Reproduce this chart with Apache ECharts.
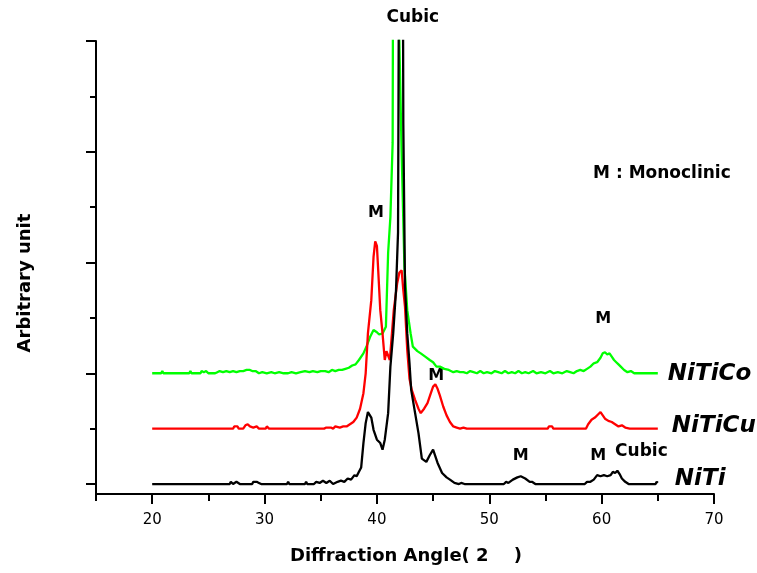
<!DOCTYPE html>
<html>
<head>
<meta charset="utf-8">
<script src="https://cdn.jsdelivr.net/npm/echarts@6/dist/echarts.min.js"></script>
<style>
  html, body { margin: 0; padding: 0; background: #ffffff; }
  #chart { width: 757px; height: 573px; }
</style>
</head>
<body>
<div id="chart"></div>
<script>
// Axis ticks (2θ in degrees, intensity in stacked arbitrary units)
const xMajorTicks = [20, 30, 40, 50, 60, 70];
const xMinorTicks = [15, 25, 35, 45, 55, 65];
const yMajorTicks = [0, 1, 2, 3, 4];
const yMinorTicks = [0.5, 1.5, 2.5, 3.5];

const seriesNames = ['NiTiCo', 'NiTiCu', 'NiTi'];

// NiTiCo pattern, offset by one unit
const nitiCo = [
  [20.0, 1.0], [20.8, 1.0], [20.9, 1.02], [21.0, 1.0], [23.3, 1.0], [23.4, 1.02], [23.5, 1.0],
  [24.3, 1.0], [24.4, 1.02], [24.6, 1.01], [24.8, 1.02], [25.0, 1.0], [25.6, 1.0], [25.8, 1.01],
  [26.0, 1.02], [26.3, 1.01], [26.6, 1.02], [26.9, 1.01], [27.2, 1.02], [27.5, 1.01], [27.8, 1.02],
  [28.1, 1.02], [28.4, 1.03], [28.7, 1.03], [28.9, 1.02], [29.2, 1.02], [29.5, 1.0], [29.8, 1.01],
  [30.2, 1.0], [30.6, 1.01], [30.9, 1.0], [31.3, 1.01], [31.7, 1.0], [32.1, 1.0], [32.4, 1.01],
  [32.8, 1.0], [33.2, 1.01], [33.6, 1.02], [34.0, 1.01], [34.3, 1.02], [34.7, 1.01], [35.0, 1.02],
  [35.4, 1.02], [35.7, 1.01], [36.0, 1.03], [36.3, 1.02], [36.6, 1.03], [36.9, 1.03], [37.2, 1.04],
  [37.5, 1.05], [37.8, 1.07], [38.1, 1.08], [38.4, 1.12], [38.8, 1.18], [39.1, 1.25], [39.4, 1.33],
  [39.7, 1.39], [40.0, 1.37], [40.2, 1.35], [40.5, 1.36], [40.8, 1.42], [41.0, 2.09], [41.2, 2.41],
  [41.4, 3.08], [41.45, 5.2], [41.75, 5.2], [42.2, 3.0], [42.45, 1.96], [42.7, 1.57], [43.0, 1.36],
  [43.2, 1.24], [43.6, 1.2], [43.9, 1.18], [44.3, 1.15], [44.7, 1.12], [45.0, 1.1], [45.3, 1.06],
  [45.6, 1.06], [46.0, 1.04], [46.4, 1.03], [46.8, 1.01], [47.1, 1.02], [47.4, 1.01], [47.7, 1.01],
  [48.0, 1.0], [48.3, 1.02], [48.6, 1.01], [48.9, 1.0], [49.2, 1.02], [49.5, 1.0], [49.8, 1.01],
  [50.2, 1.0], [50.5, 1.02], [50.8, 1.01], [51.1, 1.0], [51.4, 1.02], [51.7, 1.0], [52.0, 1.01],
  [52.3, 1.0], [52.6, 1.02], [52.9, 1.0], [53.2, 1.01], [53.5, 1.0], [53.9, 1.02], [54.2, 1.0],
  [54.6, 1.01], [55.0, 1.0], [55.4, 1.02], [55.7, 1.0], [56.1, 1.01], [56.5, 1.0], [56.9, 1.02],
  [57.2, 1.01], [57.5, 1.0], [57.8, 1.02], [58.1, 1.03], [58.4, 1.02], [58.7, 1.04], [59.0, 1.06],
  [59.3, 1.09], [59.6, 1.1], [59.9, 1.14], [60.1, 1.18], [60.3, 1.19], [60.5, 1.17], [60.7, 1.18],
  [60.9, 1.15], [61.1, 1.12], [61.3, 1.1], [61.5, 1.08], [61.7, 1.06], [62.0, 1.03], [62.3, 1.01],
  [62.6, 1.02], [62.9, 1.0], [65.0, 1.0]
];

// NiTiCu pattern, offset by half a unit
const nitiCu = [
  [20.0, 0.5], [27.2, 0.5], [27.3, 0.52], [27.6, 0.52], [27.7, 0.5], [28.1, 0.5], [28.3, 0.53],
  [28.5, 0.54], [28.7, 0.52], [29.0, 0.51], [29.3, 0.52], [29.5, 0.5], [30.1, 0.5], [30.2, 0.52],
  [30.4, 0.5], [31.2, 0.5], [31.3, 0.51], [31.6, 0.5], [32.4, 0.5], [32.5, 0.51], [32.8, 0.5],
  [33.7, 0.5], [33.8, 0.51], [34.0, 0.5], [35.3, 0.5], [35.5, 0.51], [35.9, 0.51], [36.1, 0.5],
  [36.3, 0.52], [36.7, 0.51], [37.0, 0.52], [37.3, 0.52], [37.6, 0.54], [37.9, 0.56], [38.2, 0.6],
  [38.5, 0.68], [38.8, 0.82], [39.0, 1.0], [39.2, 1.36], [39.5, 1.66], [39.7, 2.05], [39.85, 2.19],
  [40.0, 2.15], [40.1, 1.96], [40.3, 1.57], [40.5, 1.36], [40.7, 1.12], [40.85, 1.2], [41.0, 1.21],
  [41.15, 1.12], [41.3, 1.12], [41.5, 1.57], [41.8, 1.81], [42.0, 1.91], [42.2, 1.93], [42.35, 1.75],
  [42.5, 1.6], [42.7, 1.21], [42.9, 0.95], [43.1, 0.85], [43.4, 0.76], [43.7, 0.68], [43.9, 0.64],
  [44.2, 0.68], [44.5, 0.73], [44.8, 0.82], [45.0, 0.88], [45.2, 0.9], [45.4, 0.86], [45.6, 0.8],
  [45.9, 0.7], [46.2, 0.62], [46.5, 0.56], [46.8, 0.52], [47.1, 0.51], [47.4, 0.5], [47.7, 0.51],
  [48.0, 0.5], [55.2, 0.5], [55.3, 0.52], [55.6, 0.52], [55.7, 0.5], [58.6, 0.5], [58.8, 0.54],
  [59.1, 0.58], [59.4, 0.6], [59.7, 0.63], [59.9, 0.65], [60.1, 0.62], [60.3, 0.59], [60.6, 0.57],
  [60.9, 0.56], [61.2, 0.54], [61.5, 0.52], [61.8, 0.53], [62.1, 0.51], [62.5, 0.5], [65.0, 0.5]
];

// NiTi pattern, no offset
const niti = [
  [20.0, 0], [26.9, 0], [27.0, 0.02], [27.2, 0], [27.5, 0.02], [27.8, 0], [28.9, 0], [29.0, 0.02],
  [29.3, 0.02], [29.5, 0.01], [29.7, 0], [32.0, 0], [32.1, 0.02], [32.2, 0], [33.6, 0], [33.7, 0.02],
  [33.8, 0], [34.4, 0], [34.6, 0.02], [34.9, 0.01], [35.2, 0.03], [35.5, 0.01], [35.8, 0.03],
  [36.1, 0], [36.5, 0.02], [36.8, 0.03], [37.1, 0.02], [37.4, 0.05], [37.7, 0.04], [38.0, 0.08],
  [38.2, 0.07], [38.4, 0.11], [38.6, 0.15], [38.8, 0.37], [39.0, 0.55], [39.2, 0.65], [39.5, 0.6],
  [39.7, 0.49], [40.0, 0.4], [40.3, 0.37], [40.5, 0.31], [40.7, 0.4], [41.0, 0.64], [41.2, 1.06],
  [41.45, 1.36], [41.7, 1.75], [41.88, 2.27], [41.98, 5.2], [42.3, 5.2], [42.35, 3.26], [42.5, 1.78],
  [42.7, 1.36], [42.9, 1.09], [43.05, 0.85], [43.4, 0.64], [43.7, 0.46], [44.0, 0.23], [44.4, 0.2],
  [44.7, 0.26], [45.0, 0.31], [45.1, 0.3], [45.4, 0.19], [45.8, 0.1], [46.2, 0.06], [46.5, 0.04],
  [46.9, 0.01], [47.3, 0], [47.5, 0.01], [47.8, 0], [50.6, 0], [50.7, 0.01], [51.3, 0], [51.5, 0.02],
  [51.7, 0.01], [52.1, 0.04], [52.5, 0.06], [52.8, 0.07], [53.2, 0.05], [53.6, 0.02], [53.8, 0.02],
  [54.1, 0], [54.9, 0], [55.0, 0.01], [55.1, 0], [58.5, 0], [58.7, 0.02], [59.0, 0.02], [59.3, 0.04],
  [59.6, 0.08], [59.9, 0.07], [60.2, 0.08], [60.5, 0.07], [60.8, 0.08], [61.0, 0.11], [61.2, 0.1],
  [61.4, 0.12], [61.6, 0.09], [61.8, 0.05], [62.1, 0.02], [62.4, 0], [64.8, 0], [64.9, 0.02], [65.0, 0.01]
];

// Peak annotations: text, 2θ, height, alignment, font size
const annotations = [
  ['Cubic', 43.2, 4.21, 'center', 17],
  ['M : Monoclinic', 59.24, 2.8, 'left', 17],
  ['M', 39.92, 2.45, 'center', 16],
  ['M', 45.28, 0.98, 'center', 16],
  ['M', 52.8, 0.25, 'center', 16],
  ['M', 59.69, 0.25, 'center', 16],
  ['Cubic', 61.2, 0.29, 'left', 17],
  ['M', 60.13, 1.49, 'center', 16]
];

const FONT = '"DejaVu Sans", "Liberation Sans", sans-serif';
const chart = echarts.init(document.getElementById('chart'), null, { renderer: 'canvas' });

const yRange = { min: -0.09, max: 4 };

function lineSeries(name, data, color, labelDistance, labelDy) {
  return {
    name: name,
    type: 'line',
    data: data,
    xAxisIndex: 0,
    yAxisIndex: 0,
    symbol: 'none',
    showSymbol: false,
    clip: true,
    animation: false,
    lineStyle: { color: color, width: 2.3 },
    endLabel: {
      show: true,
      formatter: '{a}',
      distance: labelDistance,
      offset: [0, labelDy],
      color: '#000',
      fontFamily: FONT,
      fontWeight: 'bold',
      fontStyle: 'italic',
      fontSize: 23
    }
  };
}

const option = {
  backgroundColor: '#ffffff',
  animation: false,
  grid: { left: 96, right: 43, top: 41, bottom: 79, containLabel: false },
  xAxis: [
    {
      type: 'value', min: 15, max: 70, position: 'bottom',
      axisLine: { show: true, onZero: false, lineStyle: { color: '#000', width: 2 } },
      axisTick: { show: true, customValues: xMajorTicks, length: 10, lineStyle: { color: '#000', width: 2 } },
      axisLabel: { show: true, customValues: xMajorTicks, margin: 19, color: '#000', fontFamily: FONT, fontSize: 15 },
      splitLine: { show: false }
    },
    {
      type: 'value', min: 15, max: 70, position: 'bottom',
      axisLine: { show: false, onZero: false },
      axisTick: { show: true, customValues: xMinorTicks, length: 7, lineStyle: { color: '#000', width: 2 } },
      axisLabel: { show: false },
      splitLine: { show: false }
    }
  ],
  yAxis: [
    {
      type: 'value', min: yRange.min, max: yRange.max, position: 'left',
      axisLine: { show: true, onZero: false, lineStyle: { color: '#000', width: 2 } },
      axisTick: { show: true, customValues: yMajorTicks, length: 10, lineStyle: { color: '#000', width: 2 } },
      axisLabel: { show: false },
      splitLine: { show: false }
    },
    {
      type: 'value', min: yRange.min, max: yRange.max, position: 'left',
      axisLine: { show: false, onZero: false },
      axisTick: { show: true, customValues: yMinorTicks, length: 6, lineStyle: { color: '#000', width: 2 } },
      axisLabel: { show: false },
      splitLine: { show: false }
    }
  ],
  series: [
    lineSeries(seriesNames[0], nitiCo, '#00ff00', 10, 1),
    lineSeries(seriesNames[1], nitiCu, '#ff0000', 14, -3),
    lineSeries(seriesNames[2], niti, '#000000', 17, -4)
  ]
};

chart.setOption(option);

// Text placed in data space so it follows the axes
const graphics = annotations.map(function (a) {
  const p = chart.convertToPixel({ gridIndex: 0 }, [a[1], a[2]]);
  return {
    type: 'text', x: p[0], y: p[1], silent: true,
    style: {
      text: a[0], fill: '#000',
      font: 'bold ' + a[4] + 'px ' + FONT,
      textAlign: a[3], align: a[3], textVerticalAlign: 'middle', verticalAlign: 'middle'
    }
  };
});

graphics.push({
  type: 'text', x: 25, y: 283, rotation: Math.PI / 2, silent: true,
  style: {
    text: 'Arbitrary unit', fill: '#000', font: 'bold 18px ' + FONT,
    textAlign: 'center', align: 'center', textVerticalAlign: 'middle', verticalAlign: 'middle'
  }
});
graphics.push({
  type: 'text', x: 290, y: 556, silent: true,
  style: {
    text: 'Diffraction Angle( 2    )', fill: '#000', font: 'bold 18px ' + FONT,
    textAlign: 'left', align: 'left', textVerticalAlign: 'middle', verticalAlign: 'middle'
  }
});

chart.setOption({ graphic: { elements: graphics } });
</script>
</body>
</html>
